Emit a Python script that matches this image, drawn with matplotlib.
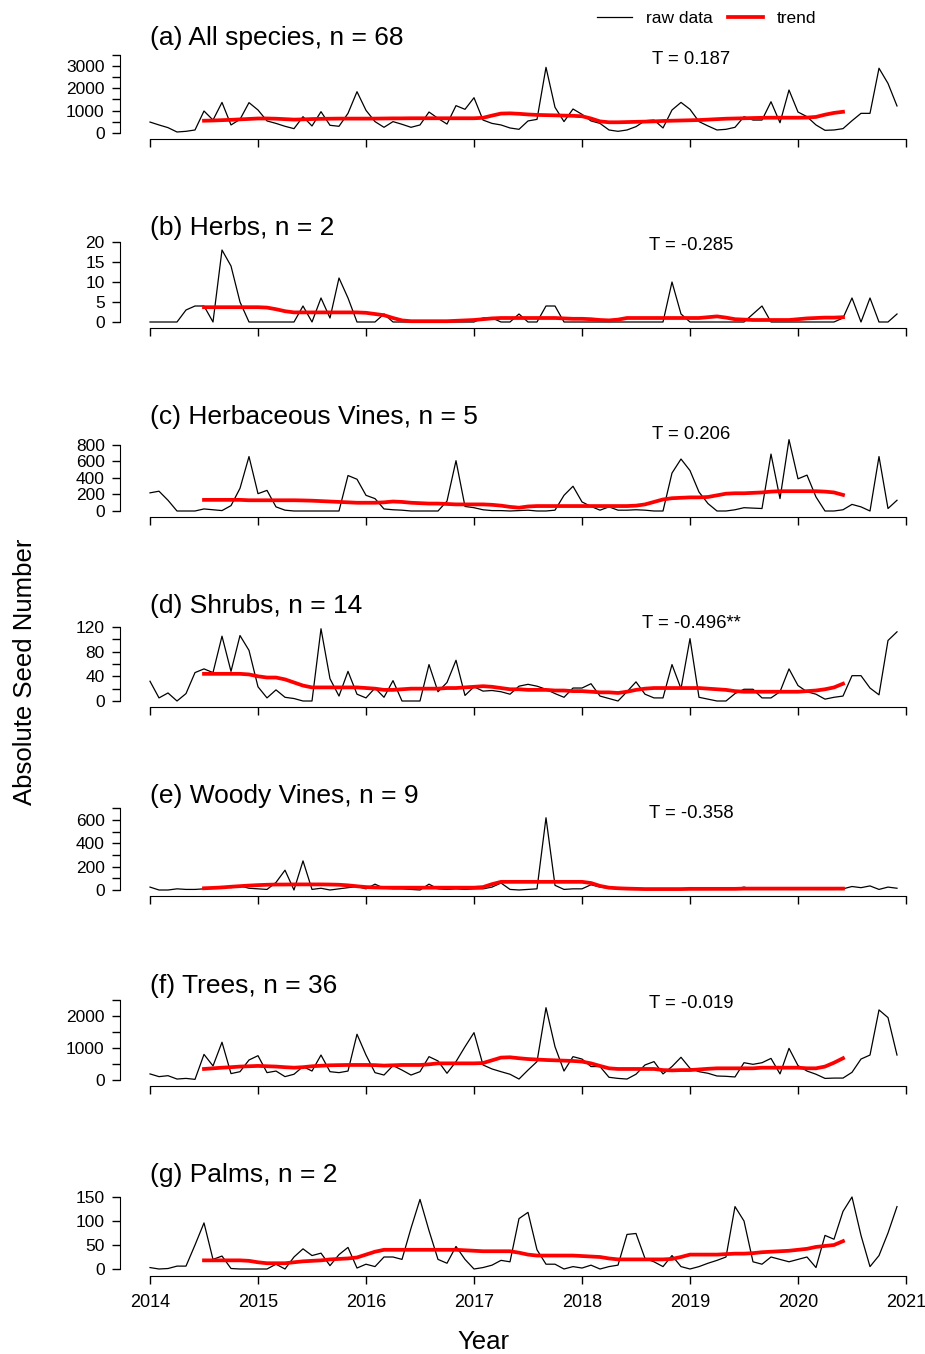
import numpy as np
import matplotlib.pyplot as plt
from matplotlib.lines import Line2D

plt.rcParams['font.family'] = ['Liberation Sans', 'DejaVu Sans']

# monthly raw counts, Jan 2014 - Dec 2020
raw_all = [490, 360, 240, 45, 75, 135, 985, 580, 1370, 360, 610, 1360,
           1030, 540, 430, 300, 195, 730, 315, 955, 345, 300, 880, 1850,
           1015, 510, 255, 510, 390, 255, 360, 940, 655, 400, 1225, 1060,
           1580, 580, 430, 360, 225, 165, 540, 610, 2940, 1150, 510, 1075,
           835, 540, 430, 135, 75, 135, 285, 550, 580, 225, 1030, 1370,
           1060, 510, 315, 135, 165, 255, 730, 580, 580, 1400, 460, 1925,
           940, 730, 360, 120, 135, 195, 550, 880, 880, 2900, 2220, 1210]
raw_herbs = [0, 0, 0, 0, 3, 4, 4, 0, 18, 14, 5, 0,
             0, 0, 0, 0, 0, 4, 0, 6, 1, 11, 6, 0,
             0, 0, 2, 0, 0, 0, 0, 0, 0, 0, 0, 0,
             0, 1, 1, 0, 0, 2, 0, 0, 4, 4, 0, 0,
             0, 0, 0, 0, 0, 0, 0, 0, 0, 0, 10, 2,
             0, 0, 0, 0, 0, 0, 0, 2, 4, 0, 0, 0,
             0, 0, 0, 0, 0, 1, 6, 0, 6, 0, 0, 2]
raw_hvines = [220, 240, 130, 0, 0, 0, 25, 15, 5, 65, 275, 660,
              210, 250, 50, 10, 0, 0, 0, 0, 0, 0, 430, 385,
              190, 150, 25, 15, 10, 0, 0, 0, 0, 120, 610, 55,
              40, 15, 5, 5, 0, 5, 10, 0, 0, 10, 190, 300,
              110, 55, 10, 50, 10, 10, 15, 10, 0, 0, 460, 630,
              490, 230, 90, 0, 0, 15, 40, 35, 30, 690, 150, 865,
              390, 435, 170, 0, 0, 15, 80, 50, 0, 660, 30, 130]
raw_shrubs = [32, 5, 13, 0, 12, 46, 52, 46, 105, 48, 106, 82,
              23, 5, 18, 6, 4, 0, 0, 117, 36, 8, 48, 11,
              5, 21, 6, 33, 0, 0, 0, 59, 15, 30, 66, 9,
              23, 16, 17, 15, 11, 24, 27, 24, 19, 12, 6, 21,
              21, 28, 8, 4, 0, 15, 31, 11, 5, 5, 59, 20,
              101, 6, 3, 0, 0, 12, 19, 19, 5, 5, 15, 52,
              25, 15, 11, 3, 6, 8, 41, 41, 21, 10, 98, 112]
raw_wvines = [25, 0, 0, 10, 5, 5, 10, 20, 30, 20, 35, 15,
              10, 5, 65, 170, 0, 250, 5, 15, 0, 10, 20, 30,
              10, 50, 15, 10, 10, 5, 0, 50, 10, 5, 10, 5,
              10, 10, 25, 60, 5, 0, 5, 10, 620, 40, 5, 10,
              10, 45, 25, 15, 10, 5, 5, 8, 5, 5, 10, 8,
              5, 5, 5, 8, 5, 8, 25, 5, 8, 5, 20, 5,
              5, 8, 5, 5, 5, 10, 30, 20, 35, 5, 25, 15]
raw_trees = [190, 105, 135, 30, 50, 20, 800, 440, 1180, 200, 260, 625,
             760, 230, 280, 105, 180, 420, 280, 780, 260, 230, 280, 1430,
             780, 230, 155, 450, 310, 155, 260, 730, 595, 210, 575, 1040,
             1480, 470, 345, 260, 180, 30, 310, 575, 2260, 1040, 280, 730,
             655, 420, 420, 85, 50, 30, 180, 470, 575, 190, 420, 710,
             365, 260, 210, 125, 115, 95, 540, 490, 540, 675, 190, 990,
             450, 280, 180, 50, 60, 60, 240, 655, 780, 2190, 1950, 780]
raw_palms = [3, 0, 1, 6, 6, 50, 96, 20, 27, 1, 0, 0,
             0, 0, 10, 0, 25, 42, 28, 33, 7, 30, 45, 2,
             10, 5, 25, 25, 20, 85, 145, 80, 20, 12, 47, 20,
             0, 3, 8, 18, 15, 105, 118, 40, 10, 10, 0, 5,
             2, 8, 0, 5, 8, 72, 74, 22, 15, 5, 28, 5,
             0, 5, 12, 18, 25, 130, 100, 15, 10, 25, 20, 15,
             20, 25, 3, 70, 62, 120, 150, 70, 5, 28, 75, 130]

# trend, Jul 2014 - Jun 2020
trend_all = [550, 560, 575, 590, 610, 630, 650, 650, 640, 620, 600, 610,
             625, 635, 640, 645, 645, 645, 645, 645, 650, 655, 655, 660,
             660, 660, 660, 660, 660, 660, 660, 680, 780, 870, 880, 860,
             830, 810, 800, 790, 780, 770, 750, 650, 520, 480, 480, 490,
             500, 510, 520, 540, 550, 560, 570, 580, 600, 620, 640, 650,
             660, 670, 680, 685, 685, 685, 685, 690, 720, 820, 900, 950]
trend_herbs = [3.7, 3.7, 3.7, 3.7, 3.7, 3.7, 3.7, 3.6, 3.2, 2.7, 2.4, 2.4,
               2.4, 2.4, 2.4, 2.4, 2.4, 2.4, 2.3, 2.0, 1.7, 1.0, 0.4, 0.2,
               0.2, 0.2, 0.2, 0.2, 0.3, 0.4, 0.5, 0.7, 0.9, 1.0, 1.0, 1.0,
               1.0, 1.0, 1.0, 1.0, 0.9, 0.8, 0.8, 0.7, 0.5, 0.4, 0.6, 1.0,
               1.0, 1.0, 1.0, 1.0, 1.0, 1.0, 1.0, 1.0, 1.2, 1.4, 1.1, 0.7,
               0.6, 0.5, 0.5, 0.5, 0.5, 0.5, 0.7, 0.9, 1.0, 1.1, 1.1, 1.2]
trend_hvines = [135, 135, 135, 135, 135, 130, 130, 130, 130, 130, 130, 128,
                125, 120, 115, 110, 105, 100, 100, 100, 105, 115, 110, 100,
                95, 90, 90, 85, 80, 80, 80, 80, 75, 65, 50, 40,
                55, 60, 60, 60, 60, 60, 60, 60, 60, 60, 60, 60,
                65, 80, 110, 140, 155, 160, 165, 165, 170, 190, 210, 215,
                215, 220, 225, 235, 240, 240, 240, 240, 240, 235, 225, 195]
trend_shrubs = [44, 44, 44, 44, 44, 43, 40, 38, 38, 35, 30, 25,
                22, 22, 22, 22, 22, 22, 21, 20, 18, 18, 19, 20,
                20, 20, 20, 21, 21, 22, 23, 24, 23, 21, 19, 19,
                18, 18, 18, 17, 17, 16, 16, 15, 14, 14, 13, 15,
                18, 20, 21, 21, 21, 21, 21, 21, 20, 19, 18, 16,
                15, 15, 15, 15, 15, 15, 15, 16, 17, 19, 22, 28]
trend_wvines = [15, 18, 22, 28, 33, 38, 42, 45, 47, 47, 48, 48,
                48, 48, 47, 45, 40, 32, 25, 22, 20, 20, 20, 20,
                20, 20, 20, 20, 20, 20, 20, 25, 50, 70, 70, 70,
                70, 70, 70, 70, 70, 70, 70, 60, 35, 20, 15, 12,
                10, 8, 8, 8, 8, 8, 10, 10, 10, 10, 10, 10,
                12, 12, 12, 12, 12, 12, 12, 12, 12, 12, 12, 12]
trend_trees = [345, 365, 385, 400, 420, 430, 440, 430, 420, 400, 385, 400,
               430, 445, 460, 465, 470, 470, 470, 465, 450, 460, 470, 470,
               470, 490, 520, 520, 520, 520, 520, 530, 615, 700, 710, 680,
               655, 640, 625, 615, 605, 595, 575, 520, 440, 365, 345, 345,
               345, 345, 345, 310, 300, 310, 310, 330, 350, 365, 365, 365,
               365, 365, 385, 385, 385, 385, 385, 365, 365, 420, 540, 680]
trend_palms = [18, 18, 18, 18, 18, 17, 14, 12, 12, 12, 14, 16,
               17, 18, 20, 21, 22, 24, 30, 36, 40, 40, 40, 40,
               40, 40, 40, 40, 40, 39, 38, 37, 37, 37, 37, 34,
               30, 28, 28, 28, 28, 28, 27, 26, 25, 22, 20, 20,
               20, 20, 20, 20, 21, 25, 30, 30, 30, 30, 31, 32,
               32, 33, 35, 36, 37, 38, 40, 42, 46, 48, 50, 58]

titles = ['(a) All species, n = 68', '(b) Herbs, n = 2', '(c) Herbaceous Vines, n = 5',
          '(d) Shrubs, n = 14', '(e) Woody Vines, n = 9', '(f) Trees, n = 36', '(g) Palms, n = 2']
tau_labels = ['T = 0.187', 'T = -0.285', 'T = 0.206', 'T = -0.496**', 'T = -0.358', 'T = -0.019', '']
raws = [raw_all, raw_herbs, raw_hvines, raw_shrubs, raw_wvines, raw_trees, raw_palms]
trends = [trend_all, trend_herbs, trend_hvines, trend_shrubs, trend_wvines, trend_trees, trend_palms]
yticks = [range(0, 3501, 500), range(0, 21, 5), range(0, 801, 200), range(0, 121, 20),
          range(0, 701, 100), range(0, 2501, 500), range(0, 151, 50)]
label_step = [1000, 5, 200, 40, 200, 1000, 50]

# layout in pixels: zero line, px per unit, axis line, title y, T y
zero_px = [133, 322, 511, 701, 890, 1080, 1269]
px_unit = [67 / 3000, 4.0, 16.5 / 200, 24.7 / 40, 23.3 / 200, 32 / 1000, 24 / 50]
axis_px = [139, 328, 517, 707, 896, 1086, 1276]
title_px = [38, 228, 417, 606, 796, 986, 1175]
tau_px = [60, 245, 435, 624, 814, 1003, 0]

W, H = 925, 1354
fig = plt.figure(figsize=(W / 100, H / 100), dpi=100)

months = 2014 + np.arange(84) / 12
trend_months = 2014 + np.arange(6, 78) / 12

for k in range(7):
    y0, s, ya = zero_px[k], px_unit[k], axis_px[k]
    top_val = max(max(raws[k]), yticks[k][-1])
    top_px = y0 - top_val * s - 4
    ax = fig.add_axes([120 / W, 1 - ya / H, 805 / W, (ya - top_px) / H])
    ax.patch.set_visible(False)
    ax.plot(months, raws[k], color='black', lw=0.9)
    ax.plot(trend_months, trends[k], color='red', lw=2.7)
    ax.set_xlim(2014 - 30 / 108, 2014 + 775 / 108)
    ax.set_ylim(-(ya - y0) / s, (y0 - top_px) / s)
    ax.spines['top'].set_visible(False)
    ax.spines['right'].set_visible(False)
    ax.spines['left'].set_bounds(0, yticks[k][-1])
    ax.spines['bottom'].set_bounds(2014, 2021)
    ax.set_xticks(range(2014, 2022))
    ax.set_yticks(list(yticks[k]))
    ax.set_yticklabels([str(v) if v % label_step[k] == 0 else '' for v in yticks[k]])
    ax.tick_params(axis='y', direction='out', length=6, width=1, labelsize=12.5, pad=5)
    ax.tick_params(axis='x', direction='out', length=6, width=1, labelsize=13, pad=7)
    if k < 6:
        ax.tick_params(labelbottom=False)
    fig.text(150 / W, 1 - title_px[k] / H, titles[k], fontsize=19, ha='left', va='center')
    if tau_labels[k]:
        fig.text(691 / W, 1 - tau_px[k] / H, tau_labels[k], fontsize=13.3, ha='center', va='center')

fig.text(25 / W, 1 - 672 / H, 'Absolute Seed Number', rotation=90, fontsize=18.5,
         ha='center', va='center')
fig.text(483 / W, 1 - 1342 / H, 'Year', fontsize=18.5, ha='center', va='center')

handles = [Line2D([], [], color='black', lw=0.9), Line2D([], [], color='red', lw=2.7)]
fig.legend(handles, ['raw data', 'trend'], loc='center left', ncol=2, frameon=False,
           bbox_to_anchor=(597 / W, 1 - 18 / H), fontsize=12.5, handlelength=2.0,
           handletextpad=0.8, columnspacing=0.9, borderpad=0, borderaxespad=0)

fig.savefig('out.png', dpi=100)
